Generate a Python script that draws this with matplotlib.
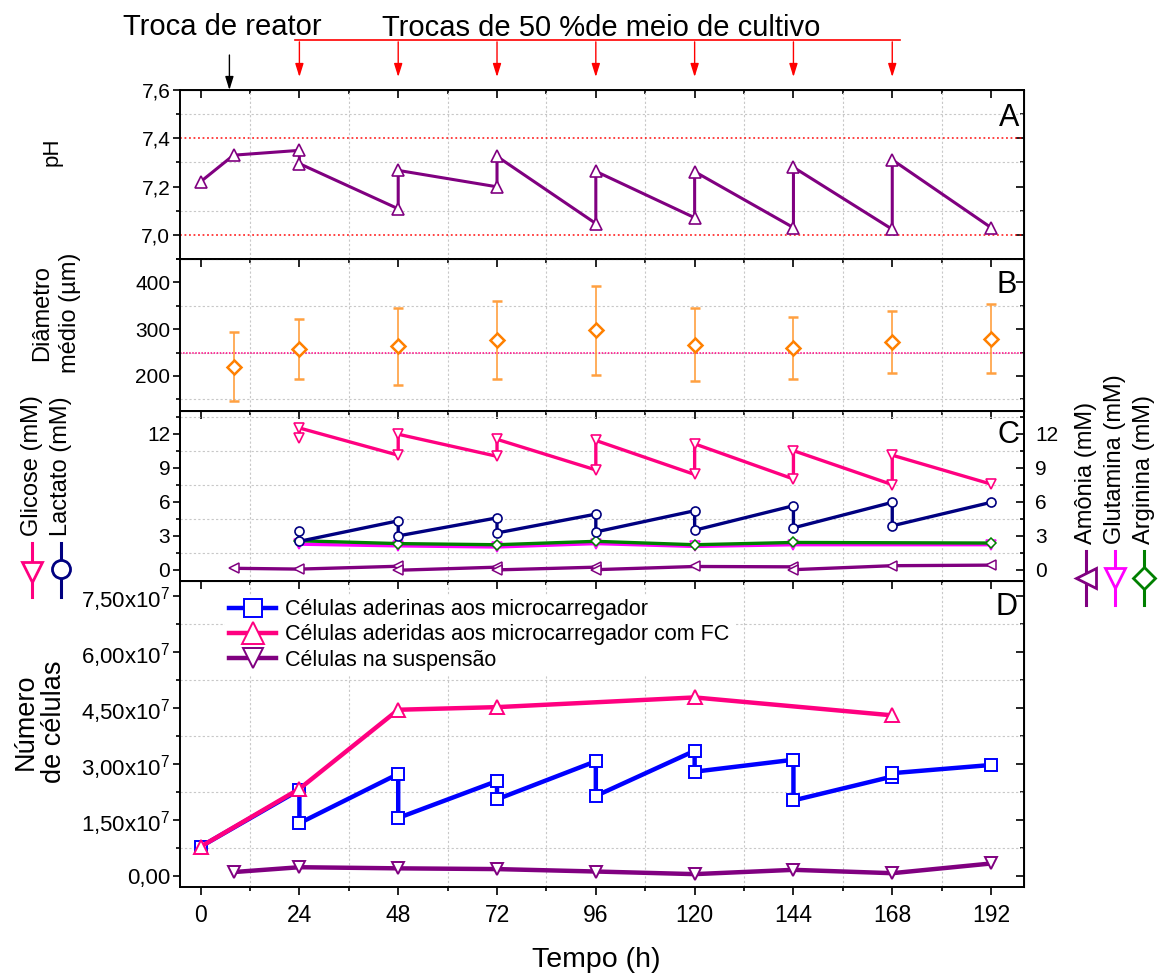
import matplotlib
matplotlib.use('Agg')
import matplotlib.pyplot as plt
from matplotlib import transforms
from matplotlib.lines import Line2D
from matplotlib.ticker import MultipleLocator, FuncFormatter

plt.rcParams['font.family'] = ['Liberation Sans', 'DejaVu Sans']
plt.rcParams['mathtext.fontset'] = 'custom'
plt.rcParams['mathtext.rm'] = 'Liberation Sans'
plt.rcParams['mathtext.it'] = 'Liberation Sans:italic'

# A - pH (two readings at each medium exchange: before / after)
ph_time = [0, 8, 24, 24, 48, 48, 72, 72, 96, 96, 120, 120, 144, 144, 168, 168, 192]
ph_value = [7.22, 7.33, 7.35, 7.295, 7.108, 7.267, 7.199, 7.325, 7.047, 7.263,
            7.071, 7.262, 7.03, 7.28, 7.023, 7.311, 7.03]

# B - mean microcarrier diameter (um)
diam_time = [8, 24, 48, 72, 96, 120, 144, 168, 192]
diam_mean = [220, 257, 263, 277, 298, 267, 260, 272, 280]
diam_sd = [74, 64, 82, 83, 95, 78, 67, 66, 74]

# C - metabolites (mM)
exch_time = [24, 24, 48, 48, 72, 72, 96, 96, 120, 120, 144, 144, 168, 168, 192]
glc_value = [11.6, 12.5, 10.1, 11.95, 10.0, 11.5, 8.8, 11.4, 8.4, 11.1, 8.0, 10.5, 7.5, 10.1, 7.55]
lac_value = [3.42, 2.5, 4.31, 2.98, 4.57, 3.24, 4.9, 3.33, 5.2, 3.48, 5.64, 3.69, 5.94, 3.87, 5.94]
amo_time = [8, 24, 48, 48, 72, 72, 96, 96, 120, 144, 144, 168, 192]
amo_value = [0.12, 0.05, 0.3, -0.05, 0.22, -0.02, 0.22, 0.0, 0.28, 0.25, 0.0, 0.35, 0.4]
aa_time = [24, 48, 72, 96, 120, 144, 192]
gln_value = [2.25, 2.1, 2.0, 2.3, 2.05, 2.2, 2.2]
arg_value = [2.55, 2.3, 2.2, 2.5, 2.2, 2.4, 2.35]

# D - cell numbers
adh_time = [0, 24, 24, 48, 48, 72, 72, 96, 96, 120, 120, 144, 144, 168, 168, 192]
adh_value = [0.78e7, 2.3e7, 1.41e7, 2.73e7, 1.55e7, 2.54e7, 2.05e7, 3.07e7, 2.14e7,
             3.35e7, 2.79e7, 3.11e7, 2.02e7, 2.66e7, 2.75e7, 2.97e7]
fc_time = [0, 24, 48, 72, 120, 168]
fc_value = [0.78e7, 2.33e7, 4.45e7, 4.52e7, 4.78e7, 4.3e7]
susp_time = [8, 24, 48, 72, 96, 120, 144, 168, 192]
susp_value = [0.1e7, 0.23e7, 0.2e7, 0.18e7, 0.115e7, 0.045e7, 0.16e7, 0.07e7, 0.33e7]

reactor_change = 7
medium_changes = [24, 48, 72, 96, 120, 144, 168]

PURPLE = '#800080'
PINK = '#FF0080'
MAGENTA = '#FF00FF'
NAVY = '#000080'
BLUE = '#0000FF'
GREEN = '#008000'
ORANGE = '#FF8000'

fig = plt.figure(figsize=(11.61, 9.77), dpi=100)
W, H = 1161.0, 977.0


def px_axes(top, bottom, left=180, right=1024):
    return fig.add_axes([left / W, 1 - bottom / H, (right - left) / W, (bottom - top) / H])


ax_a = px_axes(90, 259)
ax_b = px_axes(259, 411)
ax_c = px_axes(411, 581)
ax_d = px_axes(581, 887)


def style_axis(ax, ymaj, ymin, fmt, last=False, right_ticks=True, ysize=15):
    ax.set_xlim(-5, 200)
    ax.xaxis.set_major_locator(MultipleLocator(24))
    ax.xaxis.set_minor_locator(MultipleLocator(12))
    ax.yaxis.set_major_locator(MultipleLocator(ymaj))
    ax.yaxis.set_minor_locator(MultipleLocator(ymin))
    ax.yaxis.set_major_formatter(FuncFormatter(fmt))
    for s in ax.spines.values():
        s.set_linewidth(1.4)
    ax.tick_params(axis='y', which='both', direction='out', left=True, right=False,
                   labelsize=ysize, width=1.2, pad=2)
    ax.tick_params(axis='y', which='major', length=5)
    ax.tick_params(axis='y', which='minor', length=3)
    if last:
        ax.tick_params(axis='x', which='both', direction='out', bottom=True, top=False,
                       labelsize=16.5, width=1.2, pad=6)
        ax.tick_params(axis='x', which='major', length=6)
        ax.tick_params(axis='x', which='minor', length=3)
    else:
        ax.tick_params(axis='x', which='both', bottom=False, top=False, labelbottom=False)
    # inward ticks along the top edge
    top = ax.secondary_xaxis('top')
    top.xaxis.set_major_locator(MultipleLocator(24))
    top.xaxis.set_minor_locator(MultipleLocator(12))
    top.tick_params(axis='x', which='both', direction='in', labeltop=False, width=1.2)
    top.tick_params(axis='x', which='major', length=6)
    top.tick_params(axis='x', which='minor', length=3)
    if right_ticks:
        rgt = ax.secondary_yaxis('right')
        rgt.yaxis.set_major_locator(MultipleLocator(ymaj))
        rgt.yaxis.set_minor_locator(MultipleLocator(ymin))
        rgt.tick_params(axis='y', which='both', direction='in', labelright=False, width=1.2)
        rgt.tick_params(axis='y', which='major', length=6)
        rgt.tick_params(axis='y', which='minor', length=3)
    ax.grid(True, which='minor', color='#c8c8c8', linestyle=(0, (2, 2)), linewidth=0.8)
    ax.grid(False, which='major')
    ax.set_axisbelow(True)


def comma(fmtstr):
    return lambda v, pos: fmtstr.format(v).replace('.', ',')


def cells_fmt(v, pos):
    if abs(v) < 1:
        return '0,00'
    return '{:.2f}'.format(v / 1e7).replace('.', ',') + r'x10$^{7}$'


# ---- A: pH
ax_a.set_ylim(6.9, 7.6)
style_axis(ax_a, 0.2, 0.1, comma('{:.1f}'))
ax_a.axhline(7.4, color='red', linestyle=(0, (1, 1.5)), linewidth=1.3, alpha=0.8)
ax_a.axhline(7.0, color='red', linestyle=(0, (1, 1.5)), linewidth=1.3, alpha=0.8)
ax_a.plot(ph_time, ph_value, color=PURPLE, lw=2.2, marker='^', ms=8.5,
          mfc='white', mec=PURPLE, mew=1.2, zorder=3)
ax_a.text(0.994, 0.787, 'A', transform=ax_a.transAxes, ha='right', va='baseline', fontsize=22)

# ---- B: mean diameter
ax_b.set_ylim(125, 450)
style_axis(ax_b, 100, 50, comma('{:.0f}'))
ax_b.axhline(250, color=PINK, linestyle=(0, (1, 1)), linewidth=1.1)
ax_b.errorbar(diam_time, diam_mean, yerr=diam_sd, fmt='D', ms=7, mfc='white', mec=ORANGE,
              mew=1.8, ecolor='#FFA040', elinewidth=1.2, capsize=3.5, capthick=1.2, zorder=3)
ax_b.text(0.992, 0.776, 'B', transform=ax_b.transAxes, ha='right', va='baseline', fontsize=22)

# ---- C: metabolites
ax_c.set_ylim(-1, 14)
style_axis(ax_c, 3, 1.5, comma('{:.0f}'), right_ticks=False)
ax_c2 = ax_c.twinx()
ax_c2.set_ylim(-1, 14)
ax_c2.yaxis.set_major_locator(MultipleLocator(3))
ax_c2.yaxis.set_minor_locator(MultipleLocator(1.5))
ax_c2.tick_params(axis='y', which='both', direction='in', labelsize=15, width=1.2, pad=8)
ax_c2.tick_params(axis='y', which='major', length=6)
ax_c2.tick_params(axis='y', which='minor', length=3)
for s in ax_c2.spines.values():
    s.set_linewidth(1.4)

ax_c2.plot(aa_time, gln_value, color=MAGENTA, lw=2.4, marker='v', ms=6.5,
           mfc='white', mec=MAGENTA, mew=1.1)
ax_c2.plot(aa_time, arg_value, color=GREEN, lw=2.4, marker='D', ms=5,
           mfc='white', mec=GREEN, mew=1.1)
ax_c2.plot(amo_time, amo_value, color=PURPLE, lw=2.4, marker='<', ms=7,
           mfc='white', mec=PURPLE, mew=1.1)
ax_c2.plot(exch_time, lac_value, color=NAVY, lw=2.4, marker='o', ms=6.5,
           mfc='white', mec=NAVY, mew=1.2)
ax_c2.plot(exch_time, glc_value, color=PINK, lw=2.4, marker='v', ms=7.5,
           mfc='white', mec=PINK, mew=1.2)
ax_c2.text(0.994, 0.812, 'C', transform=ax_c.transAxes, ha='right', va='baseline', fontsize=22)

# ---- D: cell numbers
ax_d.set_ylim(-3e6, 7.9e7)
style_axis(ax_d, 1.5e7, 0.75e7, cells_fmt, last=True, ysize=16)
ax_d.plot(susp_time, susp_value, color=PURPLE, lw=3.2, marker='v', ms=9,
          mfc='white', mec=PURPLE, mew=1.4, label='Células na suspensão', zorder=3)
ax_d.plot(adh_time, adh_value, color=BLUE, lw=3.2, marker='s', ms=8,
          mfc='white', mec=BLUE, mew=1.4, label='Células aderinas aos microcarregador', zorder=3)
ax_d.plot(fc_time, fc_value, color=PINK, lw=3.2, marker='^', ms=10,
          mfc='white', mec=PINK, mew=1.4, label='Células aderidas aos microcarregador com FC', zorder=4)
handles, labels = ax_d.get_legend_handles_labels()
order = [1, 2, 0]
leg = ax_d.legend([handles[i] for i in order], [labels[i] for i in order],
                  loc='upper left', bbox_to_anchor=(0.053, 0.955), borderaxespad=0,
                  borderpad=0.2, fontsize=15.5, handlelength=2.2, handletextpad=0.4,
                  labelspacing=0.2, markerscale=1.6, frameon=True, framealpha=1,
                  facecolor='white', edgecolor='none')
ax_d.text(0.992, 0.889, 'D', transform=ax_d.transAxes, ha='right', va='baseline', fontsize=22)

# ---- axis titles
fig.text(596 / W, 1 - 967 / H, 'Tempo (h)', ha='center', va='baseline', fontsize=20.5)
fig.text(52 / W, 1 - 152 / H, 'pH', rotation=90, ha='center', va='center', fontsize=16)
fig.text(56 / W, 1 - 313 / H, 'Diâmetro\nmédio (µm)', rotation=90, ha='center', va='center',
         multialignment='center', fontsize=17, linespacing=1.35)
fig.text(40 / W, 1 - 722 / H, 'Número\nde células', rotation=90, ha='center', va='center',
         multialignment='center', fontsize=19.5, linespacing=1.1)


# rotated legend keys for panel C
def side_key(x, text_bottom, key_top, key_mid, key_bot, label, color, marker, ms):
    fig.text(x / W, 1 - text_bottom / H, label, rotation=90, ha='center', va='bottom', fontsize=17)
    fig.add_artist(Line2D([x / W, x / W], [1 - key_top / H, 1 - key_bot / H],
                          transform=fig.transFigure, color=color, lw=2.2))
    fig.add_artist(Line2D([x / W], [1 - key_mid / H], transform=fig.transFigure,
                          marker=marker, ms=ms, mfc='white', mec=color, mew=2, ls='none'))


side_key(32, 536, 543, 572, 597, 'Glicose (mM)', PINK, 'v', 15)
side_key(61, 536, 543, 569, 597, 'Lactato (mM)', NAVY, 'o', 13)
side_key(1086, 544, 551, 578, 605, 'Amônia (mM)', PURPLE, '<', 15)
side_key(1115, 544, 551, 578, 605, 'Glutamina (mM)', MAGENTA, 'v', 15)
side_key(1144, 544, 551, 578, 605, 'Arginina (mM)', GREEN, 'D', 11)

# ---- reactor / medium exchange markers above panel A
trans = transforms.blended_transform_factory(ax_a.transData, ax_a.transAxes)
ax_a.plot([23, 170], [1.296, 1.296], transform=trans, color='red', lw=1.2, clip_on=False)
for t in medium_changes:
    ax_a.annotate('', xy=(t, 1.077), xytext=(t, 1.285), xycoords=trans, textcoords=trans,
                  arrowprops=dict(arrowstyle='-|>,head_length=0.8,head_width=0.25',
                                  color='red', lw=1.0, mutation_scale=10,
                                  shrinkA=0, shrinkB=0))
ax_a.annotate('', xy=(reactor_change, 1.0), xytext=(reactor_change, 1.207),
              xycoords=trans, textcoords=trans,
              arrowprops=dict(arrowstyle='-|>,head_length=0.8,head_width=0.25',
                              color='black', lw=1.0, mutation_scale=10, shrinkA=0, shrinkB=0))
fig.text(222 / W, 1 - 35 / H, 'Troca de reator', ha='center', va='baseline', fontsize=21)
fig.text(601 / W, 1 - 36 / H, 'Trocas de 50 %de meio de cultivo', ha='center', va='baseline',
         fontsize=21)

fig.savefig('out.png', dpi=100)
